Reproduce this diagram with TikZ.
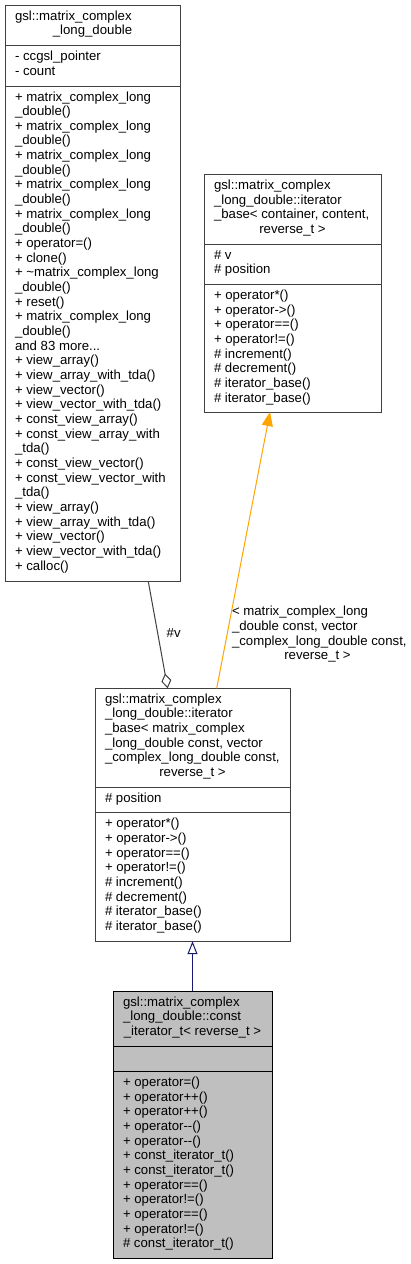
\documentclass[tikz,border=0pt]{standalone}
\usepackage{fontspec}
\setmainfont{Liberation Sans}
\usetikzlibrary{arrows.meta}
\definecolor{boxline}{HTML}{404040}
\definecolor{aggcol}{HTML}{404040}
\definecolor{tmplcol}{HTML}{FFA500}
\definecolor{inhcol}{HTML}{191970}
\definecolor{rootfill}{HTML}{BFBFBF}
\newcommand\textlines[4]{\foreach \mline [count=\rowi] in {#4} {\node[txt] (#1-\rowi) at (#2,{#3+(\rowi-1)*14.66}) {\mline};}}
\begin{document}
\begin{tikzpicture}[x=1pt,y=-1pt,
  txt/.style={anchor=base west, inner sep=0pt, outer sep=0pt, font=\fontsize{13.2}{14.66}\selectfont},
  ctxt/.style={txt, anchor=base},
  umlbox/.style={draw=boxline, fill=white, line width=1pt, anchor=north west, inner sep=0pt, outer sep=0pt},
  rootbox/.style={umlbox, draw=black, fill=rootfill},
  divider/.style={draw=boxline, line width=1pt},
  rootdivider/.style={draw=black, line width=1pt},
  aggedge/.style={draw=aggcol, line width=1pt, -{Diamond[open, length=15pt, width=10pt]}},
  tmpledge/.style={draw=tmplcol, line width=1pt, -{Triangle[length=14pt, width=11pt]}},
  inhedge/.style={draw=inhcol, line width=1pt, -{Triangle[open, length=13pt, width=10pt]}}]
\fill[white] (0,0) rectangle (410,1264);
\useasboundingbox (0,0) rectangle (410,1264);

% ---------- Box A: gsl::matrix_complex_long_double ----------
\node[umlbox, minimum width=175pt, minimum height=576.5pt] (A) at (5,5) {};
\draw[divider] (5,45.5) -- (180,45.5);
\draw[divider] (5,86) -- (180,86);
\textlines{At}{15}{20}{gsl::matrix\_complex}
\node[ctxt] (At-c) at (92.5,{20+14.66}) {\_long\_double};
\textlines{Aa}{15}{60.5}{- ccgsl\_pointer, - count}
\textlines{Am}{15}{101}{+ matrix\_complex\_long, \_double(), + matrix\_complex\_long, \_double(), + matrix\_complex\_long, \_double(), + matrix\_complex\_long, \_double(), + matrix\_complex\_long, \_double(), + operator=(), + clone(), + \textasciitilde matrix\_complex\_long, \_double(), + reset(), + matrix\_complex\_long, \_double(), {and 83 more.{}.{}.}, + view\_array(), + view\_array\_with\_tda(), + view\_vector(), + view\_vector\_with\_tda(), + const\_view\_array(), + const\_view\_array\_with, \_tda(), + const\_view\_vector(), + const\_view\_vector\_with, \_tda(), + view\_array(), + view\_array\_with\_tda(), + view\_vector(), + view\_vector\_with\_tda(), + calloc()}

% ---------- Box D: iterator_base template ----------
\node[umlbox, minimum width=177pt, minimum height=237.5pt] (D) at (204,174.5) {};
\draw[divider] (204,244.1) -- (381,244.1);
\draw[divider] (204,284.4) -- (381,284.4);
\textlines{Dt}{214}{189.5}{gsl::matrix\_complex, \_long\_double::iterator, {\_base< container, content,}}
\node[ctxt] (Dt-c) at (292.5,{189.5+3*14.66}) {reverse\_t >};
\textlines{Da}{214}{259.1}{\# v, \# position}
\textlines{Dm}{214}{299.4}{+ operator*(), + operator->(), + operator==(), + operator!=(), \# increment(), \# decrement(), \# iterator\_base(), \# iterator\_base()}

% ---------- Box B: iterator_base instance ----------
\node[umlbox, minimum width=195pt, minimum height=252.9pt] (B) at (95,688.3) {};
\draw[divider] (95,787.3) -- (290,787.3);
\draw[divider] (95,812.9) -- (290,812.9);
\textlines{Bt}{105}{703.3}{gsl::matrix\_complex, \_long\_double::iterator, \_base< matrix\_complex, {\_long\_double const, vector}, {\_complex\_long\_double const,}}
\node[ctxt] (Bt-c) at (192.5,{703.3+5*14.66}) {reverse\_t >};
\textlines{Ba}{105}{802.3}{\# position}
\textlines{Bm}{105}{827.9}{+ operator*(), + operator->(), + operator==(), + operator!=(), \# increment(), \# decrement(), \# iterator\_base(), \# iterator\_base()}

% ---------- Box C: const_iterator_t ----------
\node[rootbox, minimum width=159pt, minimum height=267pt] (C) at (113,991) {};
\draw[rootdivider] (113,1046) -- (272,1046);
\draw[rootdivider] (113,1071.6) -- (272,1071.6);
\textlines{Ct}{123}{1006}{gsl::matrix\_complex, \_long\_double::const}
\node[ctxt] (Ct-c) at (192.5,{1006+2*14.66}) {\_iterator\_t< reverse\_t >};
\textlines{Cm}{123}{1086.6}{+ operator=(), + operator++(), + operator++(), + operator-{}-(), + operator-{}-(), + const\_iterator\_t(), + const\_iterator\_t(), + operator==(), + operator!=(), + operator==(), + operator!=(), \# const\_iterator\_t()}

% ---------- Connectors ----------
\draw[aggedge] ([xshift=143.3pt]A.south west) -- ([xshift=72.7pt]B.north west);
\node[ctxt] (vlab) at (173.7,637.7) {\#v};

\draw[tmpledge] ([xshift=121.7pt]B.north west) -- ([xshift=66pt]D.south west);
\node[txt] (tl-1) at (232,615.4) {< matrix\_complex\_long};
\node[txt] (tl-2) at (232,630.2) {\_double const, vector};
\node[txt] (tl-3) at (232,645.0) {\_complex\_long\_double const,};
\node[ctxt] (tl-4) at (317.5,659.8) {reverse\_t >};

\draw[inhedge] (C.north) -- (B.south);
\end{tikzpicture}
\end{document}
